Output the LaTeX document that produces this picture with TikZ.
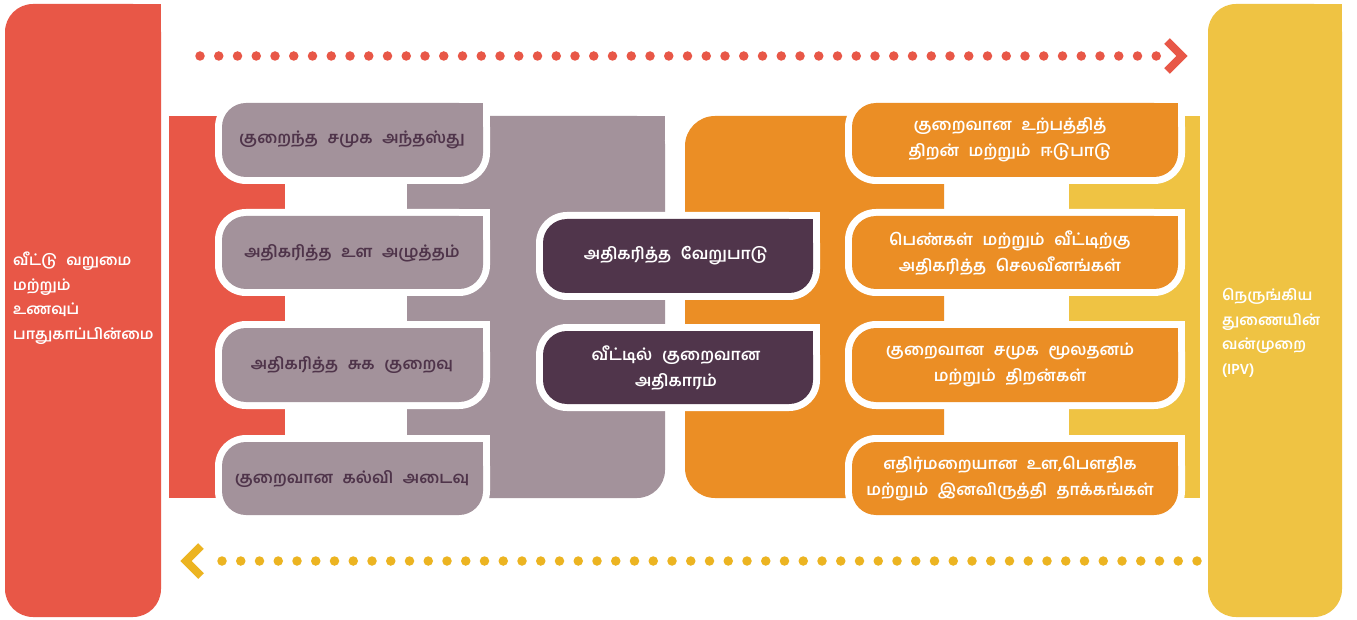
\documentclass[tikz,border=0pt]{standalone}
\usepackage{fontspec}
\newfontfamily\tam[Script=Tamil,WordSpace=2.4]{Hind Madurai}
\definecolor{cred}{HTML}{E85747}
\definecolor{cgrey}{HTML}{A3929B}
\definecolor{cdark}{HTML}{50354B}
\definecolor{corange}{HTML}{EB8E25}
\definecolor{cyellow}{HTML}{EFC343}
\definecolor{carrowy}{HTML}{ECB421}
\definecolor{cgtext}{HTML}{4F344A}
% box with top-right corner square, the other three rounded
\newcommand\tribox[6]{%
  \fill[#1,rounded corners=#6pt] (#2,#3) rectangle (#4,#5);
  \fill[#1] ({#4-#6},#3) rectangle (#4,{#3+#6});}
\tikzset{
  btxt/.style={font=\tam\bfseries\fontsize{16.2}{26}\selectfont, align=center, inner sep=0pt},
  gtxt/.style={btxt, text=cgtext},
  wtxt/.style={btxt, text=white},
  sidetxt/.style={font=\tam\bfseries\fontsize{15}{24.5}\selectfont, align=left, text=white, inner sep=0pt, anchor=west},
  dotline/.style={line width=9.5pt, line cap=round, dash pattern=on 0pt off 18.75pt},
  chev/.style={line width=8pt, miter limit=10}
}
\begin{document}
\begin{tikzpicture}[x=1pt,y=-1pt]
\useasboundingbox (0,0) rectangle (1357,620);
\fill[white] (0,0) rectangle (1357,620);
% side bars
\tribox{cred}{5}{4}{161}{617}{28}
\tribox{cyellow}{1208}{4}{1342}{617}{28}
% columns
\fill[cred] (169,116) rectangle (285,498);
\fill[cgrey,rounded corners=28pt] (407,116) rectangle (665,498);
\fill[cgrey] (407,116) rectangle (665,140);
\fill[cgrey] (407,116) rectangle (440,498);
\fill[corange,rounded corners=30pt] (685,116) rectangle (944,498);
\fill[corange] (910,116) rectangle (944,498);
\fill[cyellow] (1069,116) rectangle (1200,498);
% grey boxes
\foreach \ya/\yb in {103/177,216/289,328/402,442/515}{
  \tribox{white}{215}{\ya-7}{490}{\yb+7}{31}
  \tribox{cgrey}{222}{\ya}{483}{\yb}{24}
}
% dark boxes
\foreach \ya/\yb in {219/293,331/404}{
  \tribox{white}{536}{\ya-7}{820}{\yb+7}{31}
  \tribox{cdark}{543}{\ya}{813}{\yb}{24}
}
% orange boxes
\foreach \ya/\yb in {103/177,216/289,328/402,442/515}{
  \tribox{white}{845}{\ya-7}{1185}{\yb+7}{31}
  \tribox{corange}{852}{\ya}{1178}{\yb}{24}
}
% texts
\node[sidetxt] (left) at (13,298) {வீட்டு வறுமை\\மற்றும்\\உணவுப்\\பாதுகாப்பின்மை};
\node[sidetxt] (right) at (1222,333) {நெருங்கிய\\துணையின்\\வன்முறை\\(IPV)};
\node[gtxt] (g1) at (352,140) {குறைந்த சமுக அந்தஸ்து};
\node[gtxt] (g2) at (352,253) {அதிகரித்த உள அழுத்தம்};
\node[gtxt] (g3) at (352,365) {அதிகரித்த சுக குறைவு};
\node[gtxt] (g4) at (352,479) {குறைவான கல்வி அடைவு};
\node[wtxt] (d1) at (676,256) {அதிகரித்த வேறுபாடு};
\node[wtxt] (d2) at (676,368) {வீட்டில் குறைவான\\அதிகாரம்};
\node[wtxt] (o1) at (1010,140) {குறைவான உற்பத்தித்\\திறன் மற்றும் ஈடுபாடு};
\node[wtxt] (o2) at (1010,253) {பெண்கள் மற்றும் வீட்டிற்கு\\அதிகரித்த செலவீனங்கள்};
\node[wtxt] (o3) at (1010,365) {குறைவான சமுக மூலதனம்\\மற்றும் திறன்கள்};
\node[wtxt] (o4) at (1010,479) {எதிர்மறையான உள,பௌதிக\\மற்றும் இனவிருத்தி தாக்கங்கள்};
% arrows
\coordinate (ra) at (200,56);
\coordinate (rb) at (1160,56);
\coordinate (rc1) at (1167,41);
\coordinate (rtip) at (1182,56);
\coordinate (rc2) at (1167,71);
\draw[dotline, cred] (ra) -- (rb);
\draw[chev, cred] (rc1) -- (rtip) -- (rc2);
\coordinate (ya) at (1197,561);
\coordinate (yb) at (212,561);
\coordinate (yc1) at (201,546);
\coordinate (ytip) at (186,561);
\coordinate (yc2) at (201,576);
\draw[dotline, carrowy] (ya) -- (yb);
\draw[chev, carrowy] (yc1) -- (ytip) -- (yc2);
\end{tikzpicture}
\end{document}
